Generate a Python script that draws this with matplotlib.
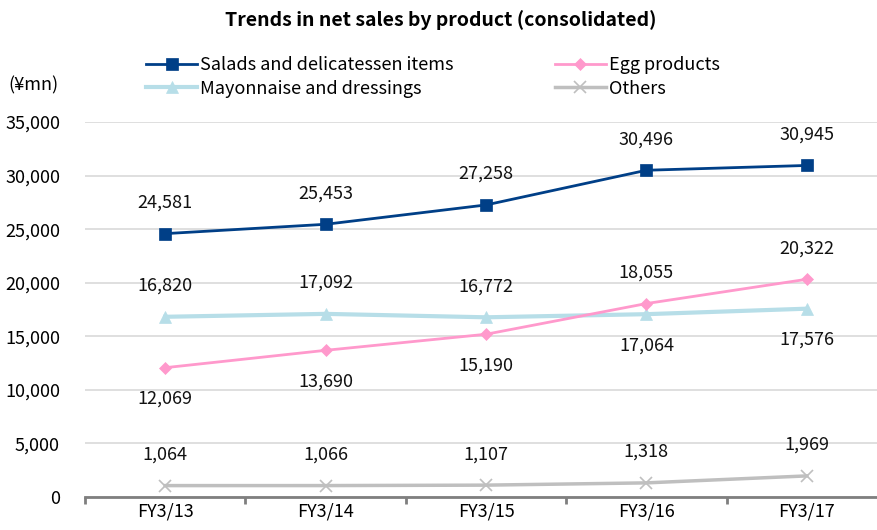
import matplotlib.pyplot as plt

plt.rcParams['font.family'] = ['Noto Sans CJK JP', 'DejaVu Sans']

years = ["FY3/13", "FY3/14", "FY3/15", "FY3/16", "FY3/17"]
salads = [24581, 25453, 27258, 30496, 30945]
mayo = [16820, 17092, 16772, 17064, 17576]
egg = [12069, 13690, 15190, 18055, 20322]
others = [1064, 1066, 1107, 1318, 1969]

# label placement: +1 above the point, -1 below
salads_pos = [1, 1, 1, 1, 1]
mayo_pos = [1, 1, 1, -1, -1]
egg_pos = [-1, -1, -1, 1, 1]
others_pos = [1, 1, 1, 1, 1]

series = [
    ("Salads and delicatessen items", salads, salads_pos, "#003F87", "s", 9, 2.0),
    ("Mayonnaise and dressings", mayo, mayo_pos, "#B7DEE8", "^", 9, 3.0),
    ("Egg products", egg, egg_pos, "#FF99CC", "D", 6, 2.0),
    ("Others", others, others_pos, "#BFBFBF", "x", 9, 2.5),
]

fig = plt.figure(figsize=(8.77, 5.30), dpi=100)
ax = fig.add_axes([85 / 877, 33 / 530, 802 / 877, 375 / 530])

x = list(range(len(years)))
handles = {}
for name, vals, pos, color, mk, ms, lw in series:
    h, = ax.plot(x, vals, color=color, lw=lw, marker=mk, markersize=ms,
                 markeredgewidth=1.2 if mk == "x" else 0.5, zorder=3)
    handles[name] = h
    for xi, v, p in zip(x, vals, pos):
        ax.annotate("{:,}".format(v), (xi, v), xytext=(0, 31 * p),
                    textcoords="offset pixels",
                    ha="center", va="center", fontsize=13, color="#111111")

ax.set_xlim(-0.5, 4.5)
ax.set_ylim(0, 35000)
ax.set_yticks(range(0, 35001, 5000))
ax.set_yticklabels(["{:,}".format(t) for t in range(0, 35001, 5000)], fontsize=13)
ax.yaxis.grid(True, color="#D9D9D9", lw=1.2)
ax.set_axisbelow(True)
ax.tick_params(axis="y", length=0, pad=18)

ax.set_xticks(x)
ax.set_xticklabels(years, fontsize=13)
ax.tick_params(axis="x", length=0, pad=4)
ax.set_xticks([i - 0.5 for i in range(len(years) + 1)], minor=True)
ax.tick_params(axis="x", which="minor", length=5, width=2, color="#7F7F7F", direction="out")

for s in ["top", "right", "left"]:
    ax.spines[s].set_visible(False)
ax.spines["bottom"].set_color("#7F7F7F")
ax.spines["bottom"].set_linewidth(2)

fig.text(0.502, 0.962, "Trends in net sales by product (consolidated)",
         ha="center", va="center", fontsize=14, fontweight="bold")
fig.text(8 / 877, 1 - 85 / 530, "(¥mn)", ha="left", va="center", fontsize=13)

order = ["Salads and delicatessen items", "Mayonnaise and dressings", "Egg products", "Others"]
fig.legend([handles[n] for n in order], order, ncol=2, loc="center",
           bbox_to_anchor=(0.494, 1 - 77 / 530), frameon=False, fontsize=13,
           handlelength=2.8, handletextpad=0.2, columnspacing=5.6,
           labelspacing=0.3)

fig.savefig("out.png", dpi=100)
